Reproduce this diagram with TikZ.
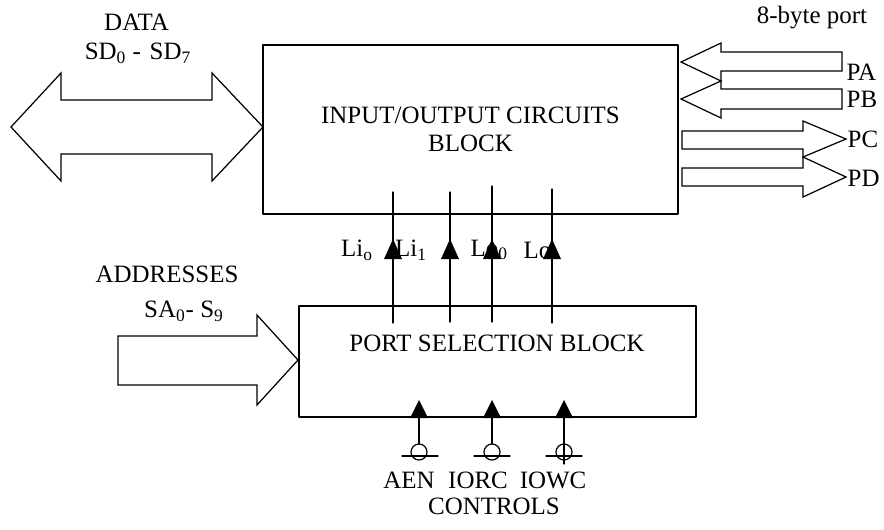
\documentclass[tikz,border=0pt]{standalone}
\usepackage{fontspec}
\setmainfont{Liberation Serif}
\usetikzlibrary{arrows.meta}
\begin{document}
\begin{tikzpicture}[x=0.02cm,y=-0.02cm,line join=round,line cap=round,line width=0.7pt,
	font=\fontsize{14.2}{16}\selectfont,
	block/.style={draw,rectangle,inner sep=0pt},
	bus/.style={draw,line join=miter,line cap=butt},
	ctl/.style={draw,circle,minimum size=0.32cm,inner sep=0pt}]
	\useasboundingbox (0,0) rectangle (884,529);
			% the two blocks
			\node[block,minimum width=8.3cm,minimum height=3.38cm,align=center] (io) at (470.5,129.5) {INPUT/OUTPUT CIRCUITS\\BLOCK};
			\node[block,minimum width=7.94cm,minimum height=2.22cm] (psel) at (497.5,361.5) {};
			\node (pseltxt) at (497,343) {PORT SELECTION BLOCK};
			% bus arrows
			\draw[bus] (11,127)--(61,73)--(61,100)--(212,100)--(212,73)--(263,127)--(212,181)--(212,154)--(61,154)--(61,181)--cycle;
			\draw[bus] (118,336)--(257,336)--(257,315)--(298,360)--(257,405)--(257,385)--(118,385)--cycle;
			\draw[bus] (681,62)--(721,43)--(721,52)--(842,52)--(842,71)--(721,71)--(721,81)--cycle;
			\draw[bus] (681,99)--(721,81)--(721,89)--(842,89)--(842,109)--(721,109)--(721,118)--cycle;
			\draw[bus] (682,131)--(803,131)--(803,121)--(846,139)--(803,157)--(803,149)--(682,149)--cycle;
			\draw[bus] (682,168)--(803,168)--(803,157)--(846,177)--(803,197)--(803,186)--(682,186)--cycle;
			% texts
			\node (data) at (136.5,22) {DATA};
			\node (sd) at (138,53) {SD\textsubscript{0} -\kern5pt SD\textsubscript{7}};
			\node (addr) at (167,274) {ADDRESSES};
			\node (sa) at (184,311) {SA\textsubscript{0}- S\textsubscript{9}};
			\node (port) at (812,18) {8-byte port};
			\node[anchor=west,inner sep=0pt] (pa) at (846,72) {PA};
			\node[anchor=west,inner sep=0pt] (pb) at (846,99) {PB};
			\node[anchor=west,inner sep=0pt] (pc) at (847,139) {PC};
			\node[anchor=west,inner sep=0pt] (pd) at (847,178) {PD};
			\node (lio) at (357,250) {Li\textsubscript{o}};
			\node (lii) at (411,250) {Li\textsubscript{1}};
			\node[anchor=west,inner sep=0pt] (loz) at (470,250) {Lo\textsubscript{0}};
			\node[anchor=west,inner sep=0pt] (lo) at (523,250) {Lo};
			% lines between the blocks
			\coordinate (s1) at (393,323); \coordinate (e1) at (393,192);
			\coordinate (s2) at (450,322); \coordinate (e2) at (450,192);
			\coordinate (s3) at (492,322); \coordinate (e3) at (492,186);
			\coordinate (s4) at (552,323); \coordinate (e4) at (552,189);
			\draw (s1)--(e1) (s2)--(e2) (s3)--(e3) (s4)--(e4);
			\fill (393,239)--++(-9,20)--++(18,0)--cycle
			(450,239)--++(-9,20)--++(18,0)--cycle
			(492,239)--++(-9,20)--++(18,0)--cycle
			(552,239)--++(-9,20)--++(18,0)--cycle;
			% controls
			\node[ctl] (aen) at (419,452) {};
			\node[ctl] (iorc) at (492,452) {};
			\node[ctl] (iowc) at (564,452) {};
			\draw (aen.north)--(aen.north|-psel.south) (iorc.north)--(iorc.north|-psel.south) (iowc.north)--(iowc.north|-psel.south);
			\draw (402,456)--(438,456) (474,456)--(510,456) (546,456)--(582,456) (iowc.north)--(564,464);
			\fill (419,400)--++(-9,18)--++(18,0)--cycle
			(492,400)--++(-9,18)--++(18,0)--cycle
			(564,400)--++(-9,18)--++(18,0)--cycle;
			\node (aentxt) at (409,480) {AEN};
			\node (iorctxt) at (478,480) {IORC};
			\node (iowctxt) at (553,480) {IOWC};
			\node (ctltxt) at (494,506) {CONTROLS};
	\end{tikzpicture}
\end{document}
